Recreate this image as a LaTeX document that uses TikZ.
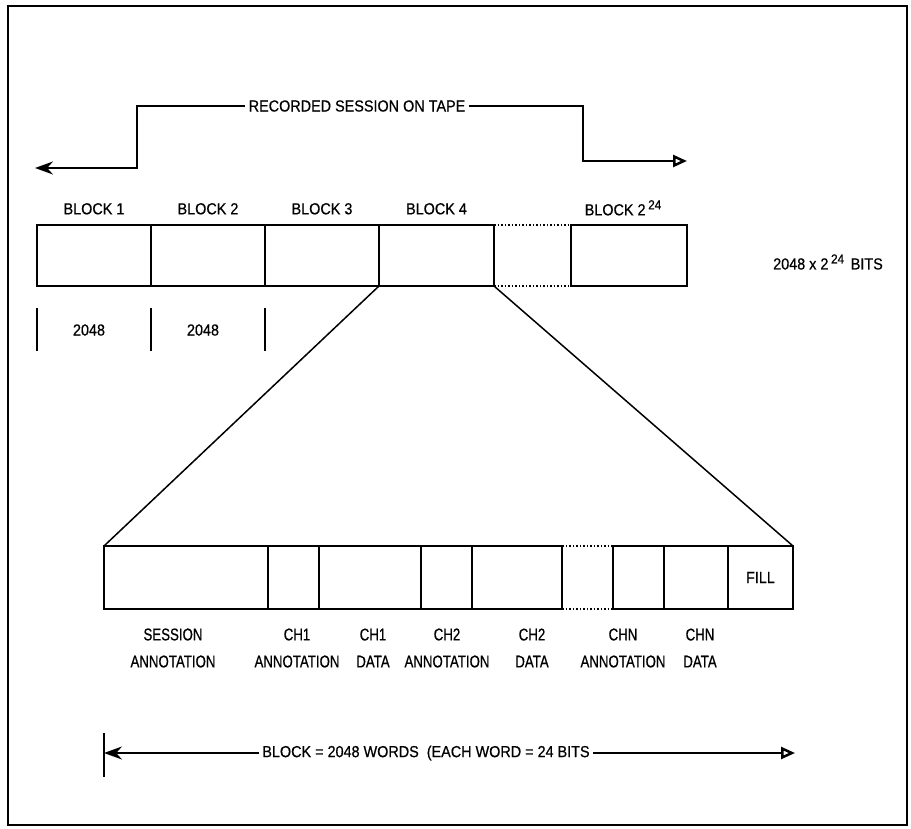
\documentclass[tikz,border=0pt]{standalone}
\usepackage{fontspec}
\setmainfont{Liberation Sans}[FakeStretch=0.9, FakeBold=0.6]
\newfontfamily\narrowfont{Liberation Sans}[FakeStretch=0.78, FakeBold=0.6]
\usetikzlibrary{arrows.meta,positioning}

\begin{document}
\begin{tikzpicture}[x=1pt, y=-1pt,
    blk/.style={draw, line width=1.5pt, minimum height=61pt, inner sep=0pt, outer sep=0pt, anchor=west},
    seg/.style={draw, line width=1.5pt, minimum height=63pt, inner sep=0pt, outer sep=0pt, anchor=west},
    lbl/.style={font=\fontsize{16}{18}\selectfont},
    fieldlbl/.style={font=\narrowfont\fontsize{17}{27}\selectfont, align=center},
    gap/.style={line width=1.5pt, dotted},
    flow/.style={line width=1.6pt}]
    \useasboundingbox (0,0) rectangle (911,828);
    \draw[line width=2.5pt] (8,6) rectangle (907,825);
% tape
\node[blk, minimum width=114pt] (b1) at (37,255.5) {};
\node[blk, minimum width=114pt] (b2) at (b1.east) {};
\node[blk, minimum width=114pt] (b3) at (b2.east) {};
\node[blk, minimum width=115pt] (b4) at (b3.east) {};
\node[blk, minimum width=116pt] (bn) at ([xshift=77pt]b4.east) {};
\draw[gap] (b4.north east) -- (bn.north west);
\draw[gap] (b4.south east) -- (bn.south west);
\node[lbl, above=7pt of b1] (t1) {BLOCK 1};
\node[lbl, above=7pt of b2] (t2) {BLOCK 2};
\node[lbl, above=7pt of b3] (t3) {BLOCK 3};
\node[lbl, above=7pt of b4] (t4) {BLOCK 4};
\node[lbl, above=6pt of bn, xshift=-6pt] (tn) {BLOCK 2\,\raisebox{6pt}{\fontsize{13}{13}\selectfont 24}};
\node[lbl] (bits) at (828,262) {2048 x 2\,\raisebox{6pt}{\fontsize{13}{13}\selectfont 24}\, BITS};
% word counts
\draw[line width=1.5pt] (37,308) -- (37,351);
\draw[line width=1.5pt] (151,308) -- (151,351);
\draw[line width=1.5pt] (265,308) -- (265,351);
\node[lbl] (w1) at (89,330) {2048};
\node[lbl] (w2) at (203,330) {2048};
% session arrow
\node[lbl] (rec) at (357,106) {RECORDED SESSION ON TAPE};
\coordinate (tapeL) at (35,168);
\coordinate (tapeR) at (687,161);
\draw[flow, -{Stealth[length=18pt, width=13pt]}] (rec.west) -| (137,168) -- (tapeL);
\draw[flow, -{Triangle[open, length=14pt, width=12pt, line width=2.5pt]}] (rec.east) -| (583,161) -- (tapeR);
% block contents
\node[seg, minimum width=164pt] (sa) at (104,577.5) {};
\node[seg, minimum width=51pt] (c1a) at (sa.east) {};
\node[seg, minimum width=102pt] (c1d) at (c1a.east) {};
\node[seg, minimum width=51pt] (c2a) at (c1d.east) {};
\node[seg, minimum width=90pt] (c2d) at (c2a.east) {};
\node[seg, minimum width=51pt] (cna) at ([xshift=51pt]c2d.east) {};
\node[seg, minimum width=64pt] (cnd) at (cna.east) {};
\node[seg, minimum width=65pt, font=\fontsize{16}{18}\selectfont] (fl) at (cnd.east) {FILL};
\draw[gap] (c2d.north east) -- (cna.north west);
\draw[gap] (c2d.south east) -- (cna.south west);
\draw[line width=1.5pt] (b4.south west) -- (sa.north west);
\draw[line width=1.5pt] (b4.south east) -- (fl.north east);
\node[fieldlbl] (lsa) at (173,648) {SESSION\\ANNOTATION};
\node[fieldlbl] (l1a) at (297,648) {CH1\\ANNOTATION};
\node[fieldlbl] (l1d) at (373,648) {CH1\\DATA};
\node[fieldlbl] (l2a) at (447,648) {CH2\\ANNOTATION};
\node[fieldlbl] (l2d) at (532,648) {CH2\\DATA};
\node[fieldlbl] (lna) at (623,648) {CHN\\ANNOTATION};
\node[fieldlbl] (lnd) at (700,648) {CHN\\DATA};
% block length
\node[lbl] (span) at (426,753) {BLOCK = 2048 WORDS \ (EACH WORD = 24 BITS};
\coordinate (spanL) at (104,753);
\coordinate (spanR) at (795,753);
\draw[line width=1.5pt] (104,733) -- (104,777);
\draw[flow, -{Stealth[length=18pt, width=13pt]}] (span.west) -- (spanL);
\draw[flow, -{Triangle[open, length=14pt, width=12pt, line width=2.5pt]}] (span.east) -- (spanR);
\end{tikzpicture}
\end{document}
